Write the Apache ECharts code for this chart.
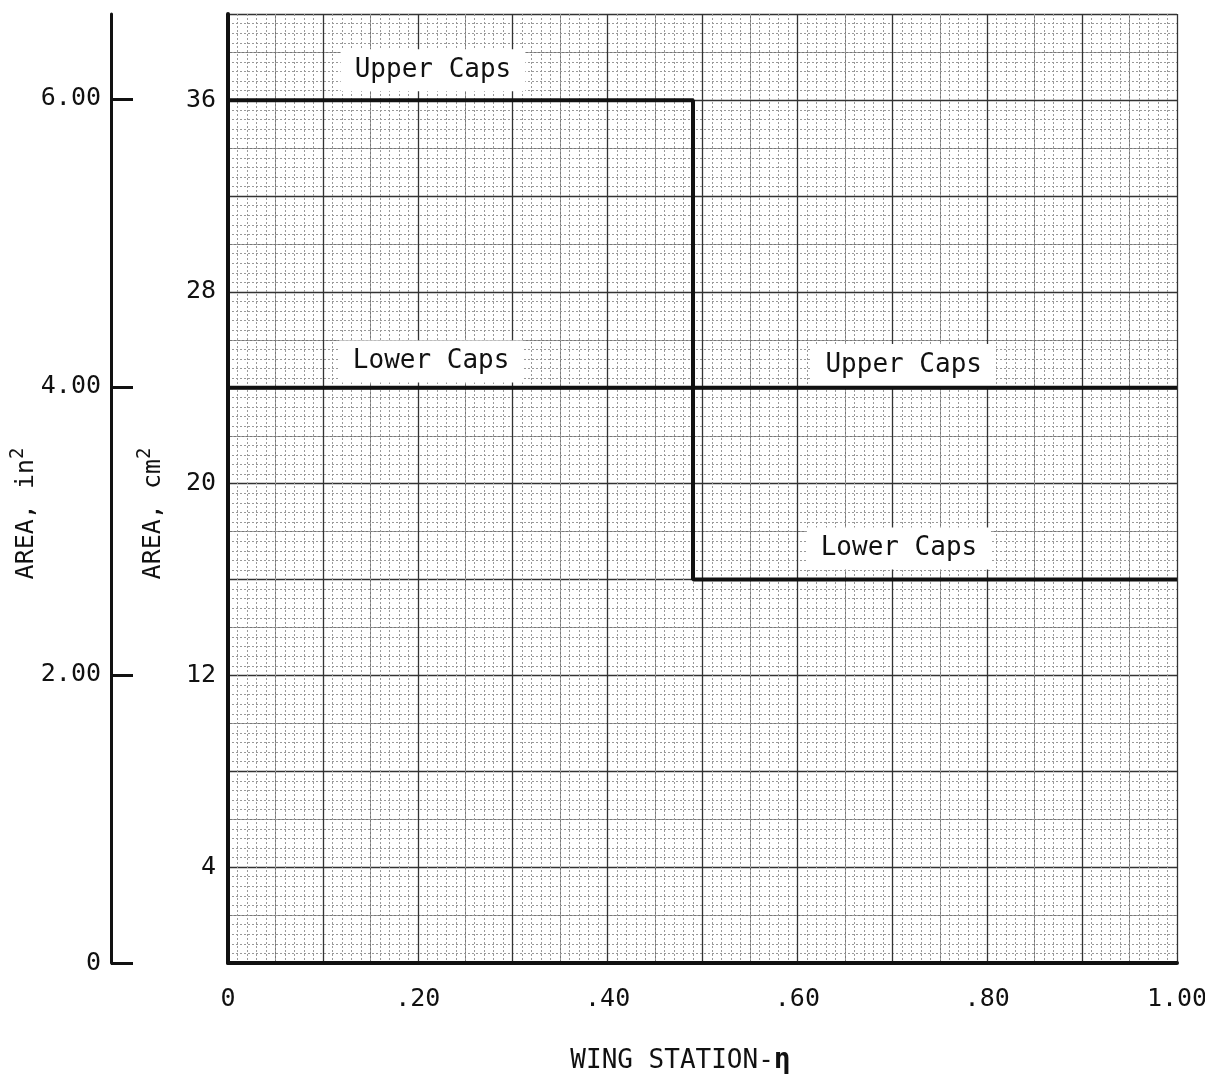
<!DOCTYPE html>
<html>
<head>
<meta charset="utf-8">
<title>Spar cap area vs wing station</title>
<script src="https://cdn.jsdelivr.net/npm/echarts@6/dist/echarts.min.js"></script>
<style>
  html, body { margin: 0; padding: 0; background: #fff; }
  #chart { width: 1205px; height: 1079px; }
</style>
</head>
<body>
<div id="chart"></div>
<script>
// wing station (eta) values and cap areas in cm^2
var station = [0, 0.49, 0.49, 1.0];
var upperCaps = [36, 36, 24, 24];
var lowerCaps = [24, 24, 16, 16];

// tick labels
var xTickVals = [0, 0.2, 0.4, 0.6, 0.8, 1.0];
var xTickText = ['0', '.20', '.40', '.60', '.80', '1.00'];
var cmTickVals = [4, 12, 20, 28, 36];
var inTickVals = [0, 2, 4, 6];
var inTickText = ['0', '2.00', '4.00', '6.00'];

// curve labels [eta, cm^2]
var labelText = ['Upper Caps', 'Lower Caps', 'Upper Caps', 'Lower Caps'];
var labelX = [0.216, 0.214, 0.712, 0.707];
var labelY = [37.25, 25.1, 24.95, 17.3];

var FONT = '"DejaVu Sans Mono", monospace';
var INK = '#111';

function pairs(xs, ys) {
  return xs.map(function (x, i) { return [x, ys[i]]; });
}

var marks = labelText.map(function (t, i) {
  return { coord: [labelX[i], labelY[i]], value: t };
});

// rich style for the raised "2" in the unit
var supRich = {
  sup: { fontFamily: FONT, fontSize: 19, color: INK, verticalAlign: 'top', lineHeight: 34 }
};

var chart = echarts.init(document.getElementById('chart'));
var option = {
  backgroundColor: '#fff',
  animation: false,
  grid: { left: 228, right: 28, top: 14, bottom: 116, outerBoundsMode: 'none' },
  xAxis: [
    {
      type: 'value',
      min: 0, max: 1, interval: 0.1,
      z: 3,
      axisLine: { onZero: false, lineStyle: { color: INK, width: 4 } },
      axisTick: { show: false },
      axisLabel: {
        margin: 24,
        customValues: xTickVals,
        color: INK, fontFamily: FONT, fontSize: 25,
        formatter: function (v) {
          var k = xTickVals.findIndex(function (t) { return Math.round(t * 100) === Math.round(v * 100); });
          return k < 0 ? '' : xTickText[k];
        }
      },
      splitLine: { lineStyle: { color: '#333', width: 1.3 } },
      minorTick: { show: false, splitNumber: 10 },
      minorSplitLine: { show: true, lineStyle: { color: '#999', width: 1, type: [2, 2] } },
      name: 'WING STATION-{eta|η}',
      nameLocation: 'middle',
      nameGap: 84,
      nameMoveOverlap: false,
      nameTextStyle: {
        color: INK, fontFamily: FONT, fontSize: 26,
        padding: [0, 44, 0, 0],
        rich: { eta: { fontFamily: FONT, fontSize: 28, fontWeight: 'bold', color: INK } }
      }
    },
    {
      // half-square lines of the graph paper
      type: 'value',
      min: 0, max: 1, interval: 0.05,
      position: 'top',
      z: 1,
      axisLine: { show: false, onZero: false },
      axisTick: { show: false },
      axisLabel: { show: false },
      splitLine: { lineStyle: { color: '#777', width: 1 } }
    }
  ],
  yAxis: [
    {
      type: 'value',
      min: 0, max: 39.6, interval: 4,
      position: 'left',
      z: 3,
      axisLine: { show: true, onZero: false, lineStyle: { color: INK, width: 4 } },
      axisTick: { show: false },
      axisLabel: {
        margin: 12,
        customValues: cmTickVals,
        color: INK, fontFamily: FONT, fontSize: 25,
        formatter: function (v) { return String(Math.round(v)); }
      },
      splitLine: { lineStyle: { color: '#333', width: 1.3 } },
      minorTick: { show: false, splitNumber: 10 },
      minorSplitLine: { show: true, lineStyle: { color: '#999', width: 1, type: [2, 2] } },
      name: 'AREA, cm{sup|2}',
      nameLocation: 'middle',
      nameRotate: 90,
      nameGap: 58,
      nameMoveOverlap: false,
      nameTextStyle: { color: INK, fontFamily: FONT, fontSize: 25, lineHeight: 34, padding: [0, 50, 0, 0], rich: supRich }
    },
    {
      type: 'value',
      min: 0, max: 6.59, interval: 2,
      position: 'left',
      offset: 117,
      z: 3,
      axisLine: { show: true, onZero: false, lineStyle: { color: INK, width: 3 } },
      axisTick: { show: true, inside: true, length: 22, customValues: inTickVals, lineStyle: { color: INK, width: 3 } },
      axisLabel: {
        margin: 10,
        customValues: inTickVals,
        color: INK, fontFamily: FONT, fontSize: 25,
        formatter: function (v) {
          var k = inTickVals.indexOf(Math.round(v));
          return k < 0 ? '' : inTickText[k];
        }
      },
      splitLine: { show: false },
      name: 'AREA, in{sup|2}',
      nameLocation: 'middle',
      nameRotate: 90,
      nameGap: 68,
      nameMoveOverlap: false,
      nameTextStyle: { color: INK, fontFamily: FONT, fontSize: 25, lineHeight: 34, padding: [0, 50, 0, 0], rich: supRich }
    },
    {
      type: 'value',
      min: 0, max: 39.6, interval: 2,
      position: 'right',
      z: 1,
      axisLine: { show: false, onZero: false },
      axisTick: { show: false },
      axisLabel: { show: false },
      splitLine: { lineStyle: { color: '#777', width: 1 } }
    }
  ],
  series: [
    {
      name: 'Upper Caps',
      type: 'line',
      z: 5,
      symbol: 'none',
      data: pairs(station, upperCaps),
      lineStyle: { color: INK, width: 4 },
      markPoint: {
        symbol: 'rect',
        symbolSize: 1,
        itemStyle: { color: 'rgba(0,0,0,0)' },
        label: {
          show: true,
          position: 'inside',
          formatter: '{c}',
          color: INK, fontFamily: FONT, fontSize: 26,
          backgroundColor: '#fff',
          padding: [8, 14]
        },
        data: marks
      }
    },
    {
      name: 'Lower Caps',
      type: 'line',
      z: 5,
      symbol: 'none',
      data: pairs(station, lowerCaps),
      lineStyle: { color: INK, width: 4 }
    }
  ]
};
chart.setOption(option);
</script>
</body>
</html>
